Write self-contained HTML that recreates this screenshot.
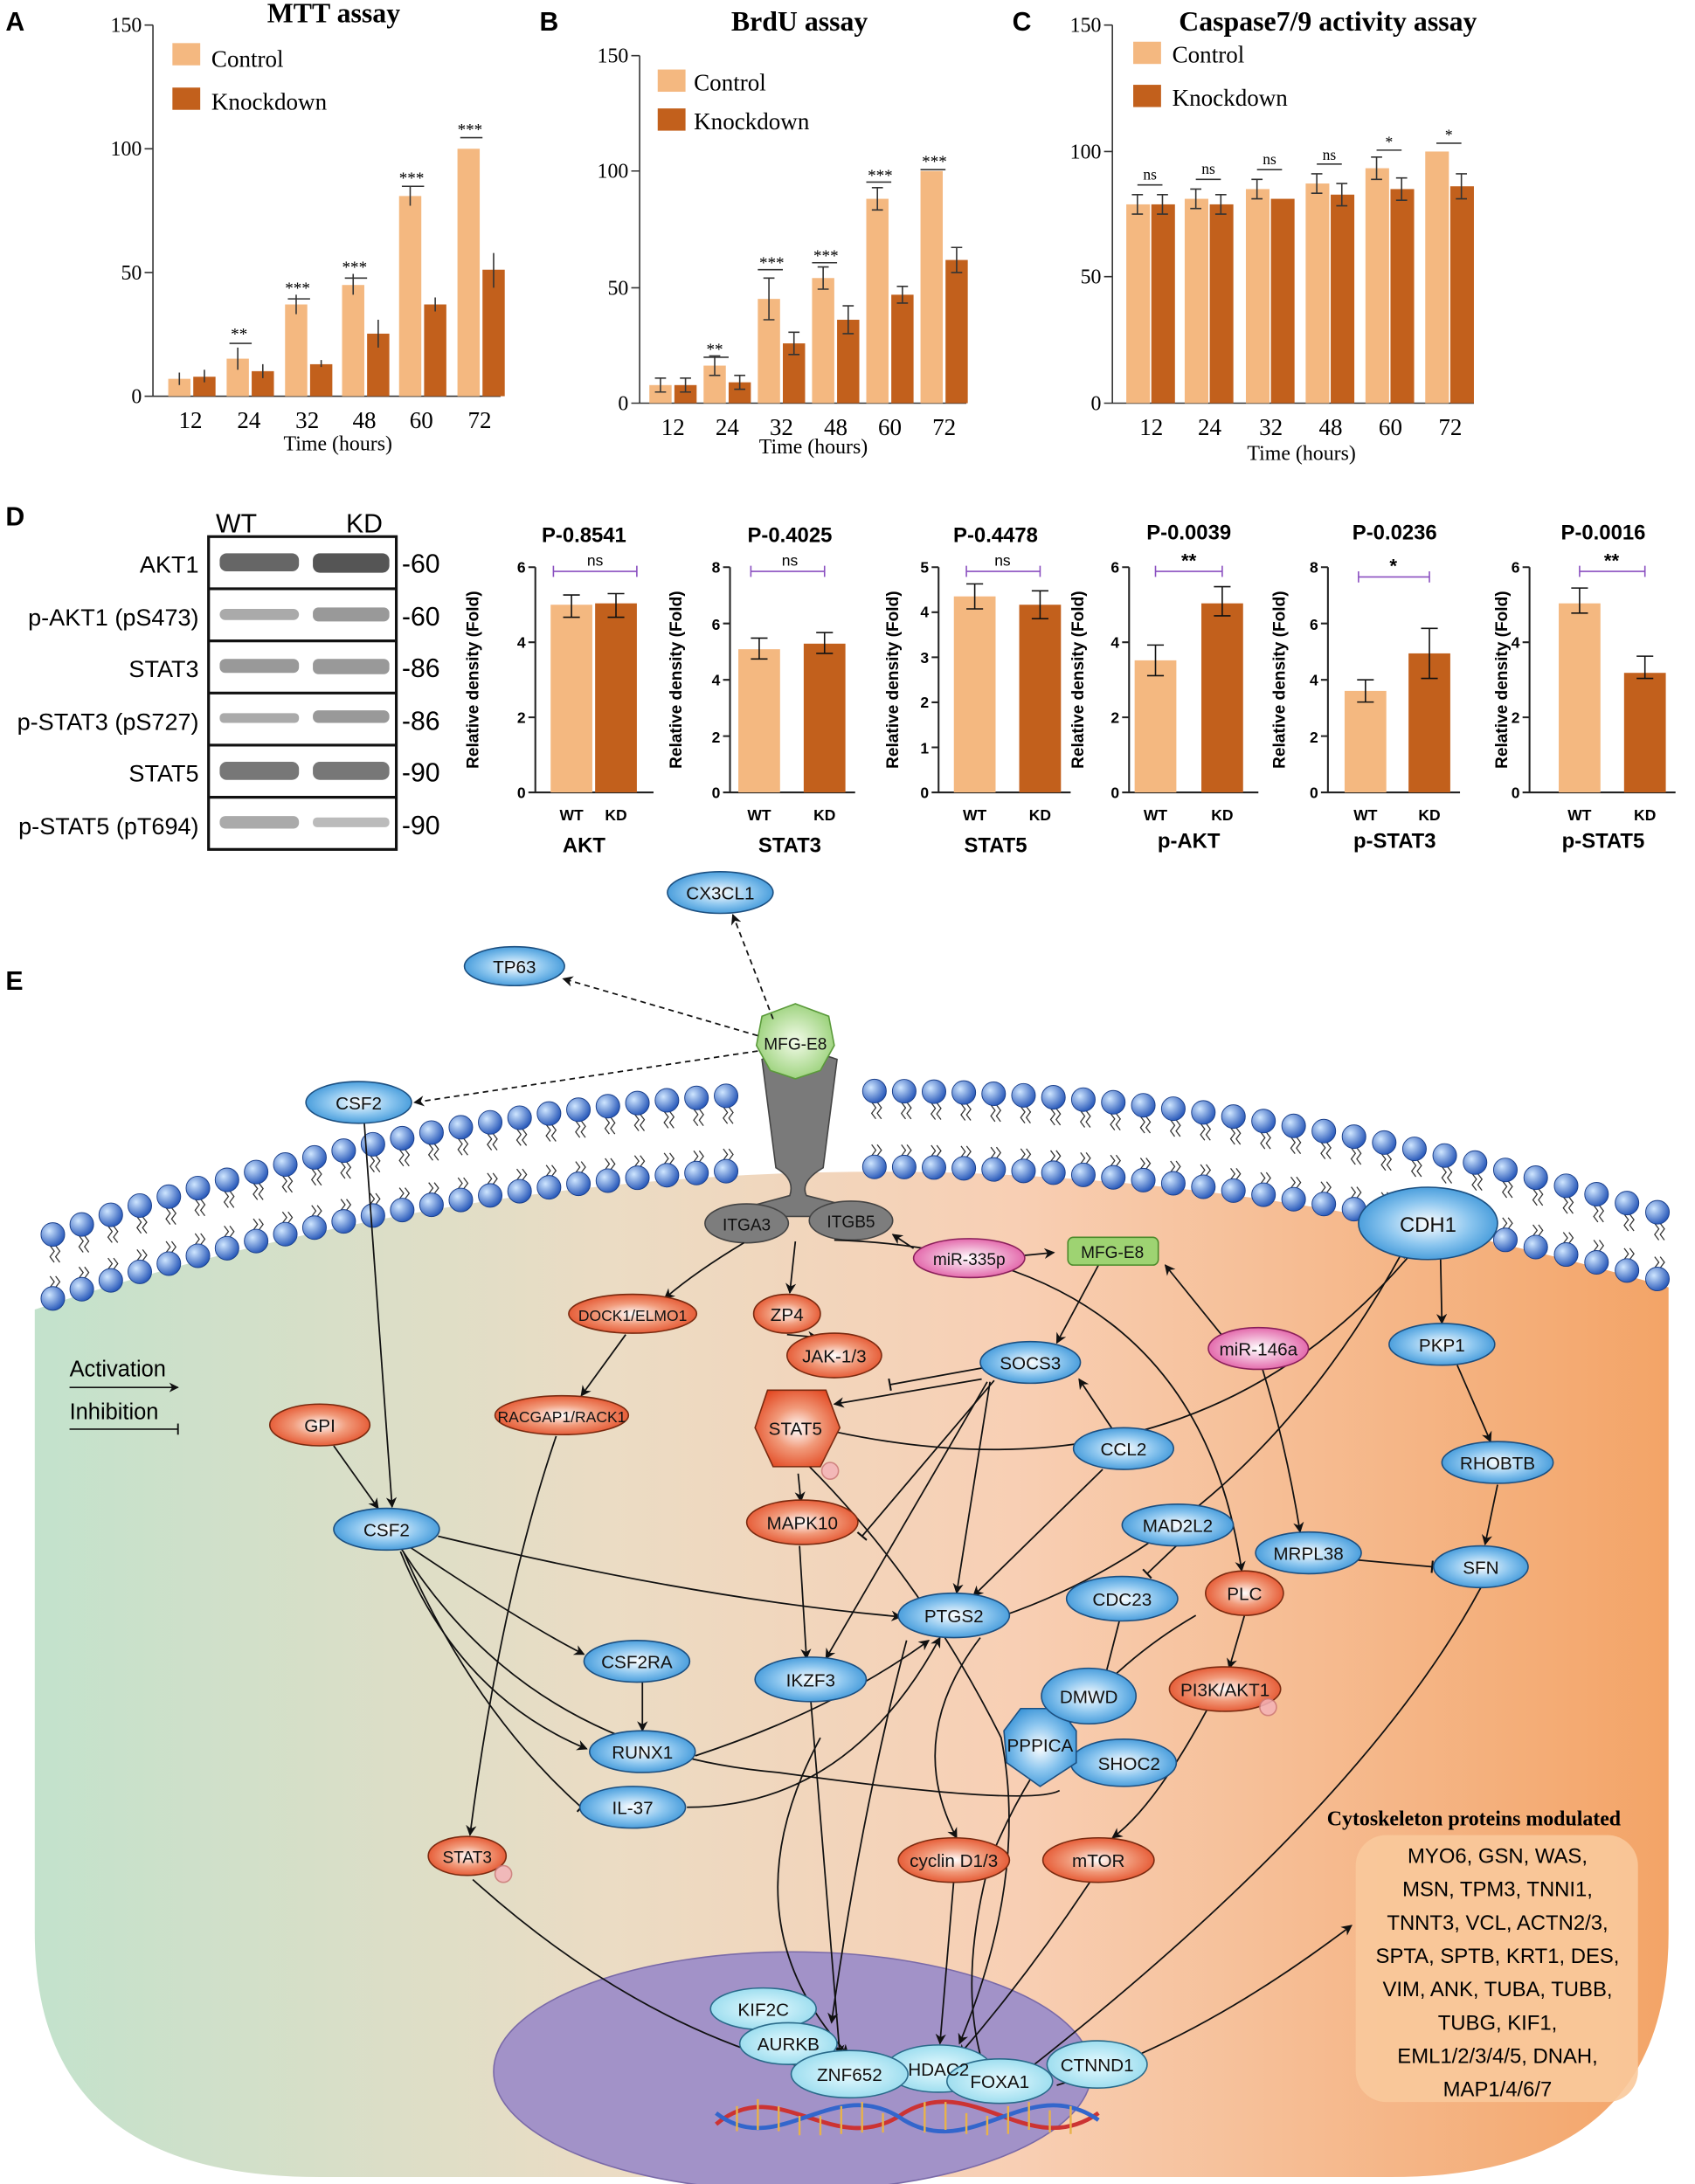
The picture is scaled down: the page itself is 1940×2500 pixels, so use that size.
<!DOCTYPE html>
<html><head><meta charset="utf-8"><style>
html,body{margin:0;padding:0;background:#fff}
svg{display:block}
.s{font-family:"Liberation Serif",serif}
.a{font-family:"Liberation Sans",sans-serif}
</style></head><body>
<svg id="sv" width="1940" height="2500" viewBox="0 0 1219 1571" preserveAspectRatio="none" xmlns="http://www.w3.org/2000/svg">
<defs>
<linearGradient id="cellg" x1="0" x2="1" y1="0" y2="0">
<stop offset="0" stop-color="#c3e2cc"/><stop offset="0.35" stop-color="#ebdcc4"/><stop offset="0.6" stop-color="#f8cfb4"/><stop offset="1" stop-color="#f3a467"/></linearGradient>
<radialGradient id="bl" cx="0.5" cy="0.5" r="0.6"><stop offset="0" stop-color="#ffffff"/><stop offset="0.5" stop-color="#8cc6ef"/><stop offset="1" stop-color="#2b8bd3"/></radialGradient>
<radialGradient id="rd" cx="0.5" cy="0.5" r="0.6"><stop offset="0" stop-color="#ffffff"/><stop offset="0.45" stop-color="#f19a7a"/><stop offset="1" stop-color="#e2441d"/></radialGradient>
<radialGradient id="gr" cx="0.5" cy="0.5" r="0.6"><stop offset="0" stop-color="#f3fbe9"/><stop offset="1" stop-color="#8fcc6c"/></radialGradient>
<radialGradient id="pk" cx="0.5" cy="0.5" r="0.6"><stop offset="0" stop-color="#ffffff"/><stop offset="1" stop-color="#de4d9c"/></radialGradient>
<radialGradient id="cy" cx="0.5" cy="0.5" r="0.6"><stop offset="0" stop-color="#e9fbff"/><stop offset="1" stop-color="#8fd8ec"/></radialGradient>
<radialGradient id="ball" cx="0.35" cy="0.35" r="0.7"><stop offset="0" stop-color="#cfe6ff"/><stop offset="1" stop-color="#2455b8"/></radialGradient>
<marker id="ar" viewBox="0 0 10 10" refX="9" refY="5" markerWidth="7" markerHeight="7" orient="auto"><path d="M0,0 L10,5 L0,10 L3,5 Z" fill="#111"/></marker>
<marker id="in" viewBox="0 0 4 10" refX="2" refY="5" markerWidth="4" markerHeight="8" orient="auto"><path d="M2,0 L2,10" stroke="#111" stroke-width="1.5"/></marker>
</defs>

<g class="a" font-weight="bold" font-size="19">
<text x="4" y="22">A</text><text x="388" y="22">B</text><text x="728" y="22">C</text><text x="4" y="378">D</text><text x="4" y="712">E</text></g>

<!-- Panel A -->
<g class="s" font-size="17">
<text x="240" y="16" font-weight="bold" font-size="20" text-anchor="middle">MTT assay</text>
<rect x="124" y="31" width="20" height="16" fill="#f4b880"/><text x="152" y="48">Control</text>
<rect x="124" y="63" width="20" height="16" fill="#c2601c"/><text x="152" y="79">Knockdown</text>
<path d="M110,18 V285 H360 M104,18H110 M104,107H110 M104,196H110 M104,285H110" stroke="#333" fill="none"/>
<g text-anchor="end" font-size="15"><text x="102" y="23">150</text><text x="102" y="112">100</text><text x="102" y="201">50</text><text x="102" y="290">0</text></g>
<g fill="#f4b880"><rect x="121" y="272.5" width="16" height="12.5"/><rect x="163" y="258" width="16" height="27"/><rect x="205" y="219" width="16" height="66"/><rect x="246" y="205" width="16" height="80"/><rect x="287" y="141" width="16" height="144"/><rect x="329" y="107" width="16" height="178"/></g>
<g fill="#c2601c"><rect x="139" y="271" width="16" height="14"/><rect x="181" y="267" width="16" height="18"/><rect x="223" y="262" width="16" height="23"/><rect x="264" y="240" width="16" height="45"/><rect x="305" y="219" width="16" height="66"/><rect x="347" y="194" width="16" height="91"/></g>
<g stroke="#333" fill="none"><path d="M129,268v9M147,266v9M171,250v16M189,262v10M213,212v14M231,259v5M254,197v15M272,230v20M295,134v14M313,214v10M355,182v25"/>
<path d="M165,247h16M207,215h16M248,200h16M289,134h16M331,99h16"/></g>
<g text-anchor="middle" font-size="12"><text x="172" y="244">**</text><text x="214" y="211">***</text><text x="255" y="196">***</text><text x="296" y="132">***</text><text x="338" y="97">***</text></g>
<g text-anchor="middle"><text x="137" y="308">12</text><text x="179" y="308">24</text><text x="221" y="308">32</text><text x="262" y="308">48</text><text x="303" y="308">60</text><text x="345" y="308">72</text><text x="243" y="324" font-size="15">Time (hours)</text></g>
</g>

<!-- Panel B -->
<g class="s" font-size="17">
<text x="575" y="22" font-weight="bold" font-size="20" text-anchor="middle">BrdU assay</text>
<rect x="473" y="50" width="20" height="16" fill="#f4b880"/><text x="499" y="65">Control</text>
<rect x="473" y="78" width="20" height="16" fill="#c2601c"/><text x="499" y="93">Knockdown</text>
<path d="M460,40 V290 H695 M454,40H460 M454,123H460 M454,207H460 M454,290H460" stroke="#333" fill="none"/>
<g text-anchor="end" font-size="15"><text x="452" y="45">150</text><text x="452" y="128">100</text><text x="452" y="212">50</text><text x="452" y="295">0</text></g>
<g fill="#f4b880"><rect x="467" y="277" width="16" height="13"/><rect x="506" y="263" width="16" height="27"/><rect x="545" y="215" width="16" height="75"/><rect x="584" y="200" width="16" height="90"/><rect x="623" y="143" width="16" height="147"/><rect x="662" y="123" width="16" height="167"/></g>
<g fill="#c2601c"><rect x="485" y="277" width="16" height="13"/><rect x="524" y="275" width="16" height="15"/><rect x="563" y="247" width="16" height="43"/><rect x="602" y="230" width="16" height="60"/><rect x="641" y="212" width="16" height="78"/><rect x="680" y="187" width="16" height="103"/></g>
<g stroke="#333" fill="none"><path d="M475,272v10M471,272h8M471,282h8 M493,272v10M489,272h8M489,282h8 M514,256v14M510,256h8M510,270h8 M532,270v10M528,270h8M528,280h8 M553,200v30M549,200h8M549,230h8 M571,239v16M567,239h8M567,255h8 M592,192v16M588,192h8M588,208h8 M610,220v20M606,220h8M606,240h8 M631,135v16M627,135h8M627,151h8 M649,206v12M645,206h8M645,218h8 M688,178v18M684,178h8M684,196h8"/>
<path d="M506,257h18M545,194h18M584,189h18M623,131h18M662,122h18"/></g>
<g text-anchor="middle" font-size="12"><text x="514" y="255">**</text><text x="555" y="193">***</text><text x="594" y="188">***</text><text x="633" y="130">***</text><text x="672" y="120">***</text></g>
<g text-anchor="middle"><text x="484" y="313">12</text><text x="523" y="313">24</text><text x="562" y="313">32</text><text x="601" y="313">48</text><text x="640" y="313">60</text><text x="679" y="313">72</text><text x="585" y="326" font-size="15">Time (hours)</text></g>
</g>

<!-- Panel C -->
<g class="s" font-size="17">
<text x="955" y="22" font-weight="bold" font-size="20" text-anchor="middle">Caspase7/9 activity assay</text>
<rect x="815" y="30" width="20" height="16" fill="#f4b880"/><text x="843" y="45">Control</text>
<rect x="815" y="61" width="20" height="16" fill="#c2601c"/><text x="843" y="76">Knockdown</text>
<path d="M800,18 V290 H1060 M794,18H800 M794,109H800 M794,199H800 M794,290H800" stroke="#333" fill="none"/>
<g text-anchor="end" font-size="15"><text x="792" y="23">150</text><text x="792" y="114">100</text><text x="792" y="204">50</text><text x="792" y="295">0</text></g>
<g fill="#f4b880"><rect x="810" y="147" width="17" height="143"/><rect x="852" y="143" width="17" height="147"/><rect x="896" y="136" width="17" height="154"/><rect x="939" y="132" width="17" height="158"/><rect x="982" y="121" width="17" height="169"/><rect x="1025" y="109" width="17" height="181"/></g>
<g fill="#c2601c"><rect x="828" y="147" width="17" height="143"/><rect x="870" y="147" width="17" height="143"/><rect x="914" y="143" width="17" height="147"/><rect x="957" y="140" width="17" height="150"/><rect x="1000" y="136" width="17" height="154"/><rect x="1043" y="134" width="17" height="156"/></g>
<g stroke="#333" fill="none"><path d="M818,140v14M814,140h8M814,154h8 M836,140v14M832,140h8M832,154h8 M860,136v14M856,136h8M856,150h8 M878,140v14M874,140h8M874,154h8 M904,129v14M900,129h8M900,143h8 M947,125v14M943,125h8M943,139h8 M965,132v16M961,132h8M961,148h8 M990,113v16M986,113h8M986,129h8 M1008,128v16M1004,128h8M1004,144h8 M1051,125v18M1047,125h8M1047,143h8"/>
<path d="M818,133h18M860,129h18M904,122h18M947,118h18M990,108h18M1033,103h18"/></g>
<g text-anchor="middle" font-size="11"><text x="827" y="129">ns</text><text x="869" y="125">ns</text><text x="913" y="118">ns</text><text x="956" y="115">ns</text><text x="999" y="106">*</text><text x="1042" y="101">*</text></g>
<g text-anchor="middle"><text x="828" y="313">12</text><text x="870" y="313">24</text><text x="914" y="313">32</text><text x="957" y="313">48</text><text x="1000" y="313">60</text><text x="1043" y="313">72</text><text x="936" y="331" font-size="15">Time (hours)</text></g>
</g>

<!-- Panel D blot -->
<g class="a" font-size="19">
<text x="170" y="383" text-anchor="middle">WT</text><text x="262" y="383" text-anchor="middle">KD</text>
<rect x="150" y="386" width="135" height="225" fill="#fff" stroke="#111" stroke-width="2"/>
<path d="M150,423.5H285M150,461H285M150,498.5H285M150,536H285M150,573.5H285" stroke="#111" stroke-width="2"/>
<g><rect x="158" y="398" width="57" height="13" rx="5" fill="#666"/><rect x="225" y="398" width="55" height="14" rx="5" fill="#555"/>
<rect x="158" y="438" width="57" height="8" rx="4" fill="#aaa"/><rect x="225" y="437" width="55" height="10" rx="4" fill="#999"/>
<rect x="158" y="474" width="57" height="10" rx="4" fill="#999"/><rect x="225" y="474" width="55" height="11" rx="4" fill="#999"/>
<rect x="158" y="513" width="57" height="7" rx="3" fill="#aaa"/><rect x="225" y="511" width="55" height="9" rx="4" fill="#999"/>
<rect x="158" y="548" width="57" height="13" rx="5" fill="#777"/><rect x="225" y="548" width="55" height="13" rx="5" fill="#777"/>
<rect x="158" y="587" width="57" height="9" rx="4" fill="#aaa"/><rect x="225" y="588" width="55" height="7" rx="3" fill="#bbb"/></g>
<g text-anchor="end" font-size="17"><text x="143" y="412">AKT1</text><text x="143" y="450">p-AKT1 (pS473)</text><text x="143" y="487">STAT3</text><text x="143" y="525">p-STAT3 (pS727)</text><text x="143" y="562">STAT5</text><text x="143" y="600">p-STAT5 (pT694)</text></g>
<g><text x="289" y="412">-60</text><text x="289" y="450">-60</text><text x="289" y="487">-86</text><text x="289" y="525">-86</text><text x="289" y="562">-90</text><text x="289" y="600">-90</text></g>
</g>

<!-- Panel D charts -->
<g class="a" font-size="11">
<g><text x="420" y="390" font-weight="bold" font-size="15" text-anchor="middle">P-0.8541</text>
<path d="M385,408V570H470M380,408H385M380,462H385M380,516H385M380,570H385" stroke="#222" fill="none" stroke-width="1.3"/>
<g text-anchor="end" font-weight="bold"><text x="378" y="412">6</text><text x="378" y="466">4</text><text x="378" y="520">2</text><text x="378" y="574">0</text></g>
<rect x="396" y="435" width="30" height="135" fill="#f4b880"/><rect x="428" y="434" width="30" height="136" fill="#c2601c"/>
<path d="M411,428v16M405,428h12M405,444h12M443,427v17M437,427h12M437,444h12" stroke="#111" fill="none"/>
<path d="M398,411h60M398,407v8M458,407v8" stroke="#8a4fc0" fill="none"/><text x="428" y="407" text-anchor="middle">ns</text>
<g font-weight="bold" text-anchor="middle"><text x="411" y="590">WT</text><text x="443" y="590">KD</text><text x="420" y="613" font-size="15">AKT</text></g>
<text transform="translate(344,489) rotate(-90)" text-anchor="middle" font-weight="bold" font-size="12">Relative density (Fold)</text></g>
<g><text x="568" y="390" font-weight="bold" font-size="15" text-anchor="middle">P-0.4025</text>
<path d="M525,408V570H615M520,408H525M520,448.5H525M520,489H525M520,529.5H525M520,570H525" stroke="#222" fill="none" stroke-width="1.3"/>
<g text-anchor="end" font-weight="bold"><text x="518" y="412">8</text><text x="518" y="453">6</text><text x="518" y="493">4</text><text x="518" y="534">2</text><text x="518" y="574">0</text></g>
<rect x="531" y="467" width="30" height="103" fill="#f4b880"/><rect x="578" y="463" width="30" height="107" fill="#c2601c"/>
<path d="M546,459v15M540,459h12M540,474h12M593,455v15M587,455h12M587,470h12" stroke="#111" fill="none"/>
<path d="M540,411h53M540,407v8M593,407v8" stroke="#8a4fc0" fill="none"/><text x="568" y="407" text-anchor="middle">ns</text>
<g font-weight="bold" text-anchor="middle"><text x="546" y="590">WT</text><text x="593" y="590">KD</text><text x="568" y="613" font-size="15">STAT3</text></g>
<text transform="translate(490,489) rotate(-90)" text-anchor="middle" font-weight="bold" font-size="12">Relative density (Fold)</text></g>
<g><text x="716" y="390" font-weight="bold" font-size="15" text-anchor="middle">P-0.4478</text>
<path d="M675,408V570H770M670,408H675M670,440.4H675M670,472.8H675M670,505.2H675M670,537.6H675M670,570H675" stroke="#222" fill="none" stroke-width="1.3"/>
<g text-anchor="end" font-weight="bold"><text x="668" y="412">5</text><text x="668" y="444">4</text><text x="668" y="477">3</text><text x="668" y="509">2</text><text x="668" y="542">1</text><text x="668" y="574">0</text></g>
<rect x="686" y="429" width="30" height="141" fill="#f4b880"/><rect x="733" y="435" width="30" height="135" fill="#c2601c"/>
<path d="M701,420v18M695,420h12M695,438h12M748,425v20M742,425h12M742,445h12" stroke="#111" fill="none"/>
<path d="M695,411h53M695,407v8M748,407v8" stroke="#8a4fc0" fill="none"/><text x="721" y="407" text-anchor="middle">ns</text>
<g font-weight="bold" text-anchor="middle"><text x="701" y="590">WT</text><text x="748" y="590">KD</text><text x="716" y="613" font-size="15">STAT5</text></g>
<text transform="translate(646,489) rotate(-90)" text-anchor="middle" font-weight="bold" font-size="12">Relative density (Fold)</text></g>
<g><text x="855" y="388" font-weight="bold" font-size="15" text-anchor="middle">P-0.0039</text>
<path d="M812,408V570H905M807,408H812M807,462H812M807,516H812M807,570H812" stroke="#222" fill="none" stroke-width="1.3"/>
<g text-anchor="end" font-weight="bold"><text x="805" y="412">6</text><text x="805" y="466">4</text><text x="805" y="520">2</text><text x="805" y="574">0</text></g>
<rect x="816" y="475" width="30" height="95" fill="#f4b880"/><rect x="864" y="434" width="30" height="136" fill="#c2601c"/>
<path d="M831,464v22M825,464h12M825,486h12M879,422v21M873,422h12M873,443h12" stroke="#111" fill="none"/>
<path d="M831,411h48M831,407v8M879,407v8" stroke="#8a4fc0" fill="none"/><text x="855" y="408" text-anchor="middle" font-size="14" font-weight="bold">**</text>
<g font-weight="bold" text-anchor="middle"><text x="831" y="590">WT</text><text x="879" y="590">KD</text><text x="855" y="610" font-size="15">p-AKT</text></g>
<text transform="translate(779,489) rotate(-90)" text-anchor="middle" font-weight="bold" font-size="12">Relative density (Fold)</text></g>
<g><text x="1003" y="388" font-weight="bold" font-size="15" text-anchor="middle">P-0.0236</text>
<path d="M955,408V570H1050M950,408H955M950,448.5H955M950,489H955M950,529.5H955M950,570H955" stroke="#222" fill="none" stroke-width="1.3"/>
<g text-anchor="end" font-weight="bold"><text x="948" y="412">8</text><text x="948" y="453">6</text><text x="948" y="493">4</text><text x="948" y="534">2</text><text x="948" y="574">0</text></g>
<rect x="967" y="497" width="30" height="73" fill="#f4b880"/><rect x="1013" y="470" width="30" height="100" fill="#c2601c"/>
<path d="M982,489v16M976,489h12M976,505h12M1028,452v36M1022,452h12M1022,488h12" stroke="#111" fill="none"/>
<path d="M977,415h51M977,411v8M1028,411v8" stroke="#8a4fc0" fill="none"/><text x="1002" y="412" text-anchor="middle" font-size="14" font-weight="bold">*</text>
<g font-weight="bold" text-anchor="middle"><text x="982" y="590">WT</text><text x="1028" y="590">KD</text><text x="1003" y="610" font-size="15">p-STAT3</text></g>
<text transform="translate(924,489) rotate(-90)" text-anchor="middle" font-weight="bold" font-size="12">Relative density (Fold)</text></g>
<g><text x="1153" y="388" font-weight="bold" font-size="15" text-anchor="middle">P-0.0016</text>
<path d="M1100,408V570H1205M1095,408H1100M1095,462H1100M1095,516H1100M1095,570H1100" stroke="#222" fill="none" stroke-width="1.3"/>
<g text-anchor="end" font-weight="bold"><text x="1093" y="412">6</text><text x="1093" y="466">4</text><text x="1093" y="520">2</text><text x="1093" y="574">0</text></g>
<rect x="1121" y="434" width="30" height="136" fill="#f4b880"/><rect x="1168" y="484" width="30" height="86" fill="#c2601c"/>
<path d="M1136,423v18M1130,423h12M1130,441h12M1183,472v16M1177,472h12M1177,488h12" stroke="#111" fill="none"/>
<path d="M1136,411h47M1136,407v8M1183,407v8" stroke="#8a4fc0" fill="none"/><text x="1159" y="408" text-anchor="middle" font-size="14" font-weight="bold">**</text>
<g font-weight="bold" text-anchor="middle"><text x="1136" y="590">WT</text><text x="1183" y="590">KD</text><text x="1153" y="610" font-size="15">p-STAT5</text></g>
<text transform="translate(1084,489) rotate(-90)" text-anchor="middle" font-weight="bold" font-size="12">Relative density (Fold)</text></g>
</g>

<!-- Panel E cell -->
<path d="M25,942 Q600,752 1200,926 L1200,1390 Q1200,1566 1000,1566 L230,1566 Q25,1566 25,1390 Z" fill="url(#cellg)"/>
<g id="mem"></g>
<path d="M548,762 Q575,752 602,762 L592,840 Q575,850 580,860 L640,875 L512,875 L568,860 Q572,848 558,840 Z" fill="#7a7a7a" stroke="#444"/>
<ellipse cx="537" cy="880" rx="30" ry="14" fill="#7d7d7d" stroke="#444"/>
<ellipse cx="612" cy="878" rx="30" ry="14" fill="#7d7d7d" stroke="#444"/>
<polygon points="548,731 572,722 596,731 600,752 590,770 572,776 554,770 544,752" fill="url(#gr)" stroke="#5a9a3a"/>
<ellipse cx="570" cy="1490" rx="215" ry="86" fill="#a292c8" stroke="#7a6aa8"/>
<path d="M515,1528 C560,1490 600,1555 650,1520 C700,1490 740,1555 790,1520" stroke="#c33" stroke-width="3" fill="none"/>
<path d="M515,1520 C560,1555 600,1490 650,1525 C700,1555 740,1490 790,1525" stroke="#36c" stroke-width="3" fill="none"/>
<g stroke-width="1.5"><path d="M530,1515v18M545,1510v22M560,1515v18M575,1522v14M590,1522v14M605,1515v20M620,1512v22M635,1520v14M665,1512v22M680,1512v20M695,1520v15M710,1522v14M725,1515v20M740,1512v20M755,1518v16M770,1515v20" stroke="#e8b24a"/></g>
<rect x="975" y="1320" width="203" height="192" rx="22" fill="#f9c99b" opacity="0.9"/>
<text x="1060" y="1313" class="s" font-weight="bold" font-size="15" text-anchor="middle">Cytoskeleton proteins modulated</text>
<g class="a" font-size="15" text-anchor="middle"><text x="1077" y="1340">MYO6, GSN, WAS,</text><text x="1077" y="1364">MSN, TPM3, TNNI1,</text><text x="1077" y="1388">TNNT3, VCL,  ACTN2/3,</text><text x="1077" y="1412">SPTA, SPTB, KRT1, DES,</text><text x="1077" y="1436">VIM, ANK, TUBA, TUBB,</text><text x="1077" y="1460">TUBG, KIF1,</text><text x="1077" y="1484">EML1/2/3/4/5, DNAH,</text><text x="1077" y="1508">MAP1/4/6/7</text></g>
<g class="a" font-size="16"><text x="50" y="990">Activation</text><text x="50" y="1021">Inhibition</text></g>
<path d="M50,998H128" stroke="#111" marker-end="url(#ar)"/><path d="M50,1028H128" stroke="#111" marker-end="url(#in)"/>

<g fill="none" stroke="#111" stroke-width="1.1">
<g stroke-dasharray="4,3" marker-end="url(#ar)"><path d="M556,733 L527,658"/><path d="M545,745 L405,704"/><path d="M545,756 L298,793"/></g>
<g marker-end="url(#ar)">
<path d="M262,808 L282,1084"/>
<path d="M572,893 L568,930"/>
<path d="M535,894 Q500,915 478,934"/>
<path d="M600,892 Q860,900 893,1130"/>
<path d="M657,898 L642,888"/>
<path d="M737,903 L758,901"/>
<path d="M880,962 L838,910"/>
<path d="M908,985 Q925,1040 935,1102"/>
<path d="M790,910 L760,966"/>
<path d="M566,960 L588,962"/>
<path d="M800,1028 L776,992"/>
<path d="M450,960 L418,1004"/>
<path d="M400,1033 Q360,1150 338,1320"/>
<path d="M240,1040 L272,1085"/>
<path d="M574,1060 L576,1080"/>
<path d="M575,1112 L580,1193"/>
<path d="M712,994 L688,1146"/>
<path d="M710,994 L594,1193"/>
<path d="M706,992 L600,1010"/>
<path d="M315,1105 Q500,1150 648,1163"/>
<path d="M295,1113 Q380,1170 420,1190"/>
<path d="M288,1116 Q330,1220 422,1258"/>
<path d="M462,1210 L462,1245"/>
<path d="M494,1300 Q610,1300 676,1178"/>
<path d="M500,1263 Q600,1230 668,1180"/>
<path d="M793,1057 L700,1148"/>
<path d="M1036,905 L1037,952"/>
<path d="M1048,982 L1072,1037"/>
<path d="M1077,1068 L1068,1111"/>
<path d="M722,1162 Q900,1100 1010,898"/>
<path d="M895,1162 L884,1200"/>
<path d="M868,1230 Q830,1300 800,1322"/>
<path d="M705,1178 Q650,1250 688,1322"/>
<path d="M560,1020 Q850,1100 1018,898"/>
<path d="M652,1180 Q620,1300 598,1455"/>
<path d="M583,1222 L604,1478"/>
<path d="M340,1352 Q460,1460 590,1490"/>
<path d="M686,1352 L676,1470"/>
<path d="M785,1352 Q740,1420 690,1478"/>
<path d="M1065,1142 Q980,1300 735,1492"/>
<path d="M760,1500 Q860,1470 972,1385"/>
<path d="M573,1046 Q660,1130 720,1250 Q740,1350 690,1470"/>
<path d="M590,1250 Q520,1380 610,1478"/>
</g>
<g marker-end="url(#in)">
<path d="M712,983 L640,996"/>
<path d="M715,993 L620,1105"/>
<path d="M290,1116 Q340,1230 418,1300"/>
<path d="M847,1111 L825,1132"/>
<path d="M805,1166 L795,1205"/>
<path d="M920,1117 L1030,1127"/>
</g>
<path d="M288,1113 Q380,1260 560,1275 Q740,1300 762,1288"/>
<path d="M860,1162 Q760,1220 712,1338 Q690,1420 705,1478"/>
</g>

<g class="a" font-size="13" text-anchor="middle" stroke-width="1">
<g stroke="#1c4f80" fill="url(#bl)">
<ellipse cx="518" cy="642" rx="38" ry="15"/><ellipse cx="370" cy="695" rx="36" ry="14"/><ellipse cx="258" cy="793" rx="38" ry="15"/>
<ellipse cx="1027" cy="880" rx="50" ry="26"/><ellipse cx="741" cy="980" rx="36" ry="15"/><ellipse cx="1037" cy="967" rx="38" ry="15"/>
<ellipse cx="808" cy="1042" rx="36" ry="15"/><ellipse cx="1077" cy="1052" rx="40" ry="15"/><ellipse cx="278" cy="1100" rx="38" ry="15"/>
<ellipse cx="847" cy="1097" rx="40" ry="15"/><ellipse cx="941" cy="1117" rx="38" ry="15"/><ellipse cx="1065" cy="1127" rx="34" ry="15"/>
<ellipse cx="807" cy="1150" rx="40" ry="16"/><ellipse cx="686" cy="1162" rx="40" ry="16"/><ellipse cx="458" cy="1195" rx="38" ry="15"/>
<ellipse cx="583" cy="1208" rx="40" ry="16"/><ellipse cx="462" cy="1260" rx="38" ry="15"/><ellipse cx="455" cy="1300" rx="38" ry="15"/>
<ellipse cx="808" cy="1268" rx="38" ry="17"/>
<polygon points="734,1229 762,1229 774,1245 774,1268 748,1285 724,1268 722,1245"/>
<ellipse cx="783" cy="1220" rx="34" ry="20"/>
</g>
<g stroke="#7a2a10" fill="url(#rd)">
<ellipse cx="455" cy="945" rx="46" ry="14"/><ellipse cx="566" cy="945" rx="24" ry="14"/><ellipse cx="600" cy="975" rx="34" ry="16"/>
<ellipse cx="230" cy="1025" rx="36" ry="15"/><ellipse cx="404" cy="1018" rx="48" ry="14"/><ellipse cx="577" cy="1095" rx="40" ry="16"/>
<ellipse cx="895" cy="1146" rx="28" ry="16"/><ellipse cx="881" cy="1215" rx="40" ry="16"/><ellipse cx="336" cy="1335" rx="28" ry="14"/>
<ellipse cx="686" cy="1338" rx="40" ry="16"/><ellipse cx="790" cy="1338" rx="40" ry="16"/>
<polygon points="552,1000 594,1000 604,1027 590,1055 556,1055 543,1027"/>
</g>
<g fill="#f4b3b8" stroke="#c77" opacity="0.85"><circle cx="597" cy="1058" r="6"/><circle cx="912" cy="1228" r="6"/><circle cx="362" cy="1348" r="6"/></g>
<g stroke="#8a1f5a" fill="url(#pk)"><ellipse cx="697" cy="905" rx="40" ry="14"/><ellipse cx="905" cy="970" rx="36" ry="15"/></g>
<rect x="768" y="890" width="65" height="20" rx="4" fill="#9ed372" stroke="#4a8a2a"/>
<g stroke="#2a6a8a" fill="url(#cy)">
<ellipse cx="549" cy="1445" rx="38" ry="15"/><ellipse cx="567" cy="1470" rx="35" ry="15"/><ellipse cx="789" cy="1485" rx="36" ry="17"/>
<ellipse cx="675" cy="1488" rx="38" ry="17"/><ellipse cx="719" cy="1497" rx="38" ry="16"/><ellipse cx="611" cy="1492" rx="42" ry="17"/></g>
<g stroke="none" fill="#111">
<text x="518" y="647">CX3CL1</text><text x="370" y="700">TP63</text><text x="258" y="798">CSF2</text><text x="572" y="755" font-size="12">MFG-E8</text>
<text x="537" y="885" font-size="12">ITGA3</text><text x="612" y="883" font-size="12">ITGB5</text><text x="697" y="910" font-size="12">miR-335p</text><text x="800" y="905" font-size="12">MFG-E8</text>
<text x="1027" y="886" font-size="15">CDH1</text><text x="455" y="950" font-size="11">DOCK1/ELMO1</text><text x="566" y="950">ZP4</text><text x="741" y="985">SOCS3</text>
<text x="905" y="975">miR-146a</text><text x="1037" y="972">PKP1</text><text x="600" y="980">JAK-1/3</text><text x="572" y="1032">STAT5</text>
<text x="230" y="1030">GPI</text><text x="404" y="1023" font-size="11">RACGAP1/RACK1</text><text x="808" y="1047">CCL2</text><text x="1077" y="1057">RHOBTB</text>
<text x="278" y="1105">CSF2</text><text x="577" y="1100">MAPK10</text><text x="847" y="1102">MAD2L2</text><text x="941" y="1122">MRPL38</text>
<text x="1065" y="1132">SFN</text><text x="895" y="1151">PLC</text><text x="807" y="1155">CDC23</text><text x="686" y="1167">PTGS2</text>
<text x="458" y="1200">CSF2RA</text><text x="583" y="1213">IKZF3</text><text x="881" y="1220">PI3K/AKT1</text><text x="783" y="1225">DMWD</text>
<text x="748" y="1260">PPPICA</text><text x="812" y="1273">SHOC2</text><text x="462" y="1265">RUNX1</text><text x="455" y="1305">IL-37</text>
<text x="336" y="1340" font-size="12">STAT3</text><text x="686" y="1343">cyclin D1/3</text><text x="790" y="1343">mTOR</text>
<text x="549" y="1450">KIF2C</text><text x="567" y="1475">AURKB</text><text x="611" y="1497">ZNF652</text><text x="675" y="1493">HDAC2</text>
<text x="719" y="1502">FOXA1</text><text x="789" y="1490">CTNND1</text>
</g>
</g>
</svg>
<script>
(function(){
var g=document.getElementById('mem'),h='';
function q(t,a,c,b){return (1-t)*(1-t)*a+2*t*(1-t)*c+t*t*b;}
var n=54;
for(var i=0;i<=n;i++){var t=i/n;
 var x1=q(t,38,600,1192),y1=q(t,888,690,872),x2=q(t,38,600,1192),y2=q(t,934,752,920);
 if(x1>540&&x1<610)continue;
 h+='<path d="M'+(x1-2)+','+(y1+8)+' l3,4 l-3,4 l3,4 M'+(x1+2)+','+(y1+8)+' l3,4 l-3,4 l3,4 M'+(x2-2)+','+(y2-8)+' l3,-4 l-3,-4 M'+(x2+2)+','+(y2-8)+' l3,-4 l-3,-4" stroke="#333" stroke-width="0.8" fill="none"/>';
 h+='<circle cx="'+x1+'" cy="'+y1+'" r="8.5" fill="url(#ball)" stroke="#1a3f8a" stroke-width="0.6"/>';
 h+='<circle cx="'+x2+'" cy="'+y2+'" r="8.5" fill="url(#ball)" stroke="#1a3f8a" stroke-width="0.6"/>';
}
g.innerHTML=h;
})();
</script>
</body></html>
